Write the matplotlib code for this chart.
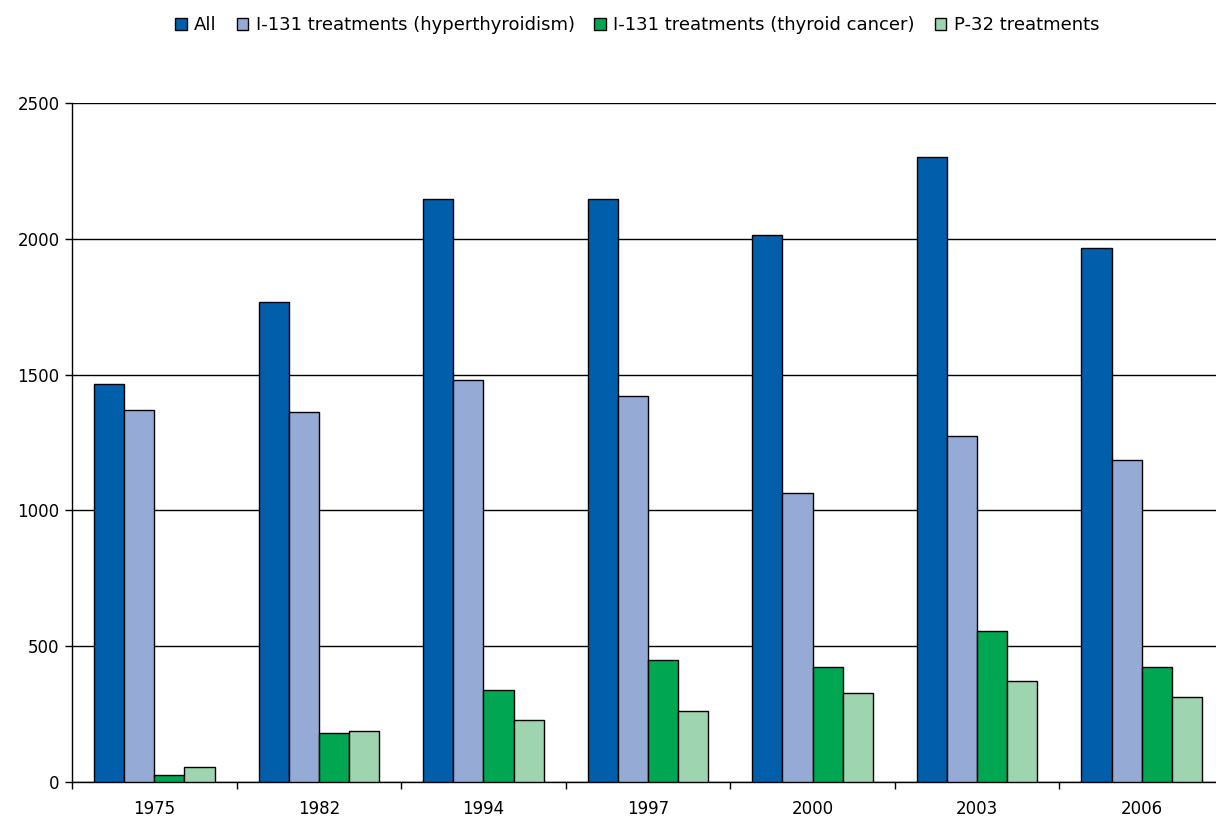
import numpy as np
import matplotlib
matplotlib.use('Agg')
import matplotlib.pyplot as plt

plt.rcParams['font.family'] = ['DejaVu Sans']

# Treatment counts per survey year
years = ['1975', '1982', '1994', '1997', '2000', '2003', '2006']
all_treatments = [1465, 1767, 2147, 2147, 2014, 2301, 1966]
i131_hyper = [1370, 1362, 1480, 1421, 1064, 1274, 1186]
i131_cancer = [26, 180, 339, 450, 423, 556, 423]
p32 = [55, 188, 228, 261, 328, 372, 313]

series = [
    ('All', all_treatments, '#005EAA'),
    ('I-131 treatments (hyperthyroidism)', i131_hyper, '#95ABD6'),
    ('I-131 treatments (thyroid cancer)', i131_cancer, '#00A651'),
    ('P-32 treatments', p32, '#9ED5B0'),
]

fig = plt.figure(figsize=(12.16, 8.19), dpi=100)
# plot area runs slightly past the right edge of the figure
ax = fig.add_axes([72 / 1216, 37 / 819, 1152 / 1216, 679 / 819])

x = np.arange(len(years))
width = 0.183
for i, (label, vals, color) in enumerate(series):
    ax.bar(x + (i - 1.5) * width, vals, width, color=color, edgecolor='black',
           linewidth=1.0, label=label, zorder=3)

ax.set_xlim(-0.5, len(years) - 0.5)
ax.set_ylim(0, 2500)
ax.set_yticks(range(0, 2501, 500))
ax.yaxis.grid(True, color='black', linewidth=1.0, zorder=0)

ax.set_xticks(x)
ax.set_xticklabels(years)
ax.set_xticks(np.arange(-0.5, len(years)), minor=True)
ax.tick_params(axis='x', which='major', length=0, pad=13, labelsize=12)
ax.tick_params(axis='x', which='minor', length=5, width=1, direction='out')
ax.tick_params(axis='y', length=5, width=1, direction='out', labelsize=12, pad=4)

for side in ('top', 'right'):
    ax.spines[side].set_visible(False)
for side in ('left', 'bottom'):
    ax.spines[side].set_linewidth(1.0)

fig.legend(loc='upper center', bbox_to_anchor=(0.524, 1.0), ncol=4,
           frameon=False, fontsize=13, handlelength=0.65, handleheight=0.65,
           handletextpad=0.4, columnspacing=1.1)

fig.savefig('out.png', dpi=100)
